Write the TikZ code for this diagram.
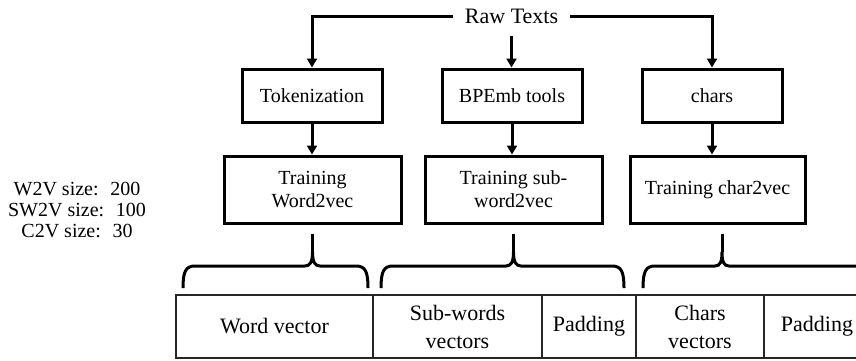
\documentclass[tikz,border=0pt]{standalone}
\usepackage{fontspec}
\setmainfont{Liberation Serif}
\usetikzlibrary{arrows.meta,calc}
\begin{document}
\begin{tikzpicture}[x=1pt,y=-1pt,
  box/.style={draw,line width=3pt,inner sep=0pt,align=center,font=\fontsize{20}{23}\selectfont},
  boxa/.style={box,minimum width=140pt,minimum height=53pt},
  boxb/.style={box,minimum width=177pt,minimum height=67pt},
  arr/.style={line width=3pt,-{Triangle[length=9pt,width=10pt]}},
  ln/.style={line width=3pt},
  cell/.style={draw=black!85,line width=1.6pt,minimum height=63pt,inner sep=0pt,align=center,font=\fontsize{22}{28}\selectfont},
  sizes/.style={align=center,font=\fontsize{20}{21}\selectfont}]
\useasboundingbox (0,0) rectangle (856,360);
\clip (0,0) rectangle (856,360);

% source
\node[inner sep=12pt,font=\fontsize{22}{26}\selectfont] (raw) at (511.5,16) {Raw Texts};

% first row
\node[boxa] (tok) at (312,95.5) {Tokenization};
\node[boxa] (bpe) at (512,95.5) {BPEmb tools};
\node[boxa] (chr) at (712,95.5) {chars};

% second row
\node[boxb] (tw)  at (312.5,189.5) {Training\\Word2vec};
\node[boxb] (tsw) at (513.5,189.5) {Training sub-\\word2vec};
\node[boxb,minimum width=175pt] (tc) at (717.5,189.5) {Training char2vec};

% sizes
\node[sizes] (sz) at (77,210) {W2V size:~ 200\\SW2V size:~ 100\\C2V size:~ 30};

% connectors
\draw[arr] (raw.west) -| (tok.north);
\draw[arr] (raw.east) -| (chr.north);
\draw[arr] (raw.south) -- (raw.south |- bpe.north);
\draw[arr] (tok.south) -- (tok.south |- tw.north);
\draw[arr] (bpe.south) -- (bpe.south |- tsw.north);
\draw[arr] (chr.south) -- (chr.south |- tc.north);

% braces
\coordinate (b1) at (312.5,252);
\coordinate (b2) at (513.5,252);
\coordinate (b3) at (722,252);
\draw[ln] (183,288) .. controls (183,271) and (186,266) .. (195,266) -- (305,266)
  .. controls (310,266) and (312.5,262) .. (b1)
  .. controls (312.5,262) and (315,266) .. (320,266) -- (356,266)
  .. controls (365,266) and (368,271) .. (368,288);
\draw[ln] (381,288) .. controls (381,271) and (384,266) .. (393,266) -- (506,266)
  .. controls (511,266) and (513.5,262) .. (b2)
  .. controls (513.5,262) and (516,266) .. (521,266) -- (612,266)
  .. controls (621,266) and (624,271) .. (624,288);
\draw[ln] (643,288) .. controls (643,271) and (646,266) .. (655,266) -- (715,266)
  .. controls (720,266) and (722,262) .. (b3)
  .. controls (722,262) and (724,266) .. (729,266) -- (880,266);

\draw[ln] (b1 |- tw.south) ++(0,9) -- (b1);
\draw[ln] (b2 |- tsw.south) ++(0,9) -- (b2);
\draw[ln] (b3 |- tc.south) ++(0,9) -- (b3);

% table
\node[cell,minimum width=197pt] (c1) at (274.5,326.5) {Word vector};
\node[cell,minimum width=169pt] (c2) at (457.5,326.5) {Sub-words\\vectors};
\node[cell,minimum width=94pt]  (c3) at (589,326.5) {Padding};
\node[cell,minimum width=128pt] (c4) at (700,326.5) {Chars\\vectors};
\node[cell,minimum width=106pt] (c5) at (817,326.5) {Padding};
\end{tikzpicture}
\end{document}
